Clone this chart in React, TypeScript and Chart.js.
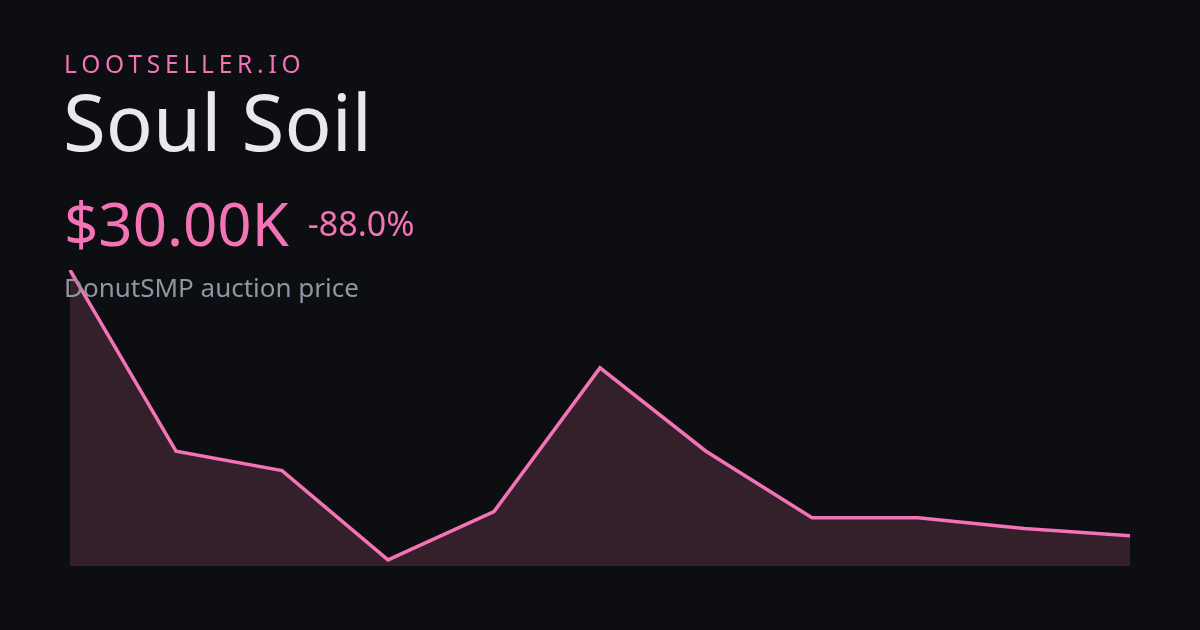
import React, { useEffect, useRef } from "react";
import { Chart, registerables } from "chart.js";

Chart.register(...registerables);

const labels = ["1", "2", "3", "4", "5", "6", "7", "8", "9", "10", "11"];
const prices = [250, 100, 84, 10, 50, 169, 100, 45, 45, 36, 30];
const yMin = 5;
const yMax = 250;

const PINK = "#f472b6";
const BG = "#0d0e11";

export default function App() {
  const ref = useRef<HTMLCanvasElement | null>(null);
  useEffect(() => {
    document.body.style.margin = "0";
    const chart = new Chart(ref.current!, {
      type: "line",
      data: {
        labels,
        datasets: [
          {
            data: prices,
            borderColor: PINK,
            borderWidth: 3.5,
            backgroundColor: "#33202b",
            fill: "start",
            pointRadius: 0,
            tension: 0,
          },
        ],
      },
      options: {
        animation: false,
        responsive: false,
        layout: { padding: { left: 70, right: 70, top: 270, bottom: 64 } },
        plugins: { legend: { display: false }, tooltip: { enabled: false } },
        scales: {
          x: { display: false, offset: false },
          y: { display: false, min: yMin, max: yMax },
        },
      },
    });
    return () => chart.destroy();
  }, []);

  const font = "'Noto Sans', sans-serif";
  return (
    <div style={{ position: "fixed", left: 0, top: 0, width: 1200, height: 630, background: BG, overflow: "hidden", fontFamily: font }}>
      <canvas ref={ref} width={1200} height={630} style={{ position: "absolute", left: 0, top: 0, width: 1200, height: 630 }} />
      <div style={{ position: "absolute", left: 64, top: 52, fontSize: 24.5, letterSpacing: 4.8, color: PINK, lineHeight: 1 }}>LOOTSELLER.IO</div>
      <div style={{ position: "absolute", left: 63, top: 79, fontSize: 78, color: "#e8e9ee", lineHeight: 1.1 }}>Soul Soil</div>
      <div style={{ position: "absolute", left: 64, top: 190, display: "flex", alignItems: "baseline", color: PINK, lineHeight: 1.1 }}>
        <span style={{ fontSize: 60 }}>$30.00K</span>
        <span style={{ fontSize: 34, marginLeft: 19, position: "relative", top: -10 }}>-88.0%</span>
      </div>
      <div style={{ position: "absolute", left: 64, top: 273, fontSize: 26, color: "#8f95a3", lineHeight: 1.1 }}>DonutSMP auction price</div>
    </div>
  );
}
